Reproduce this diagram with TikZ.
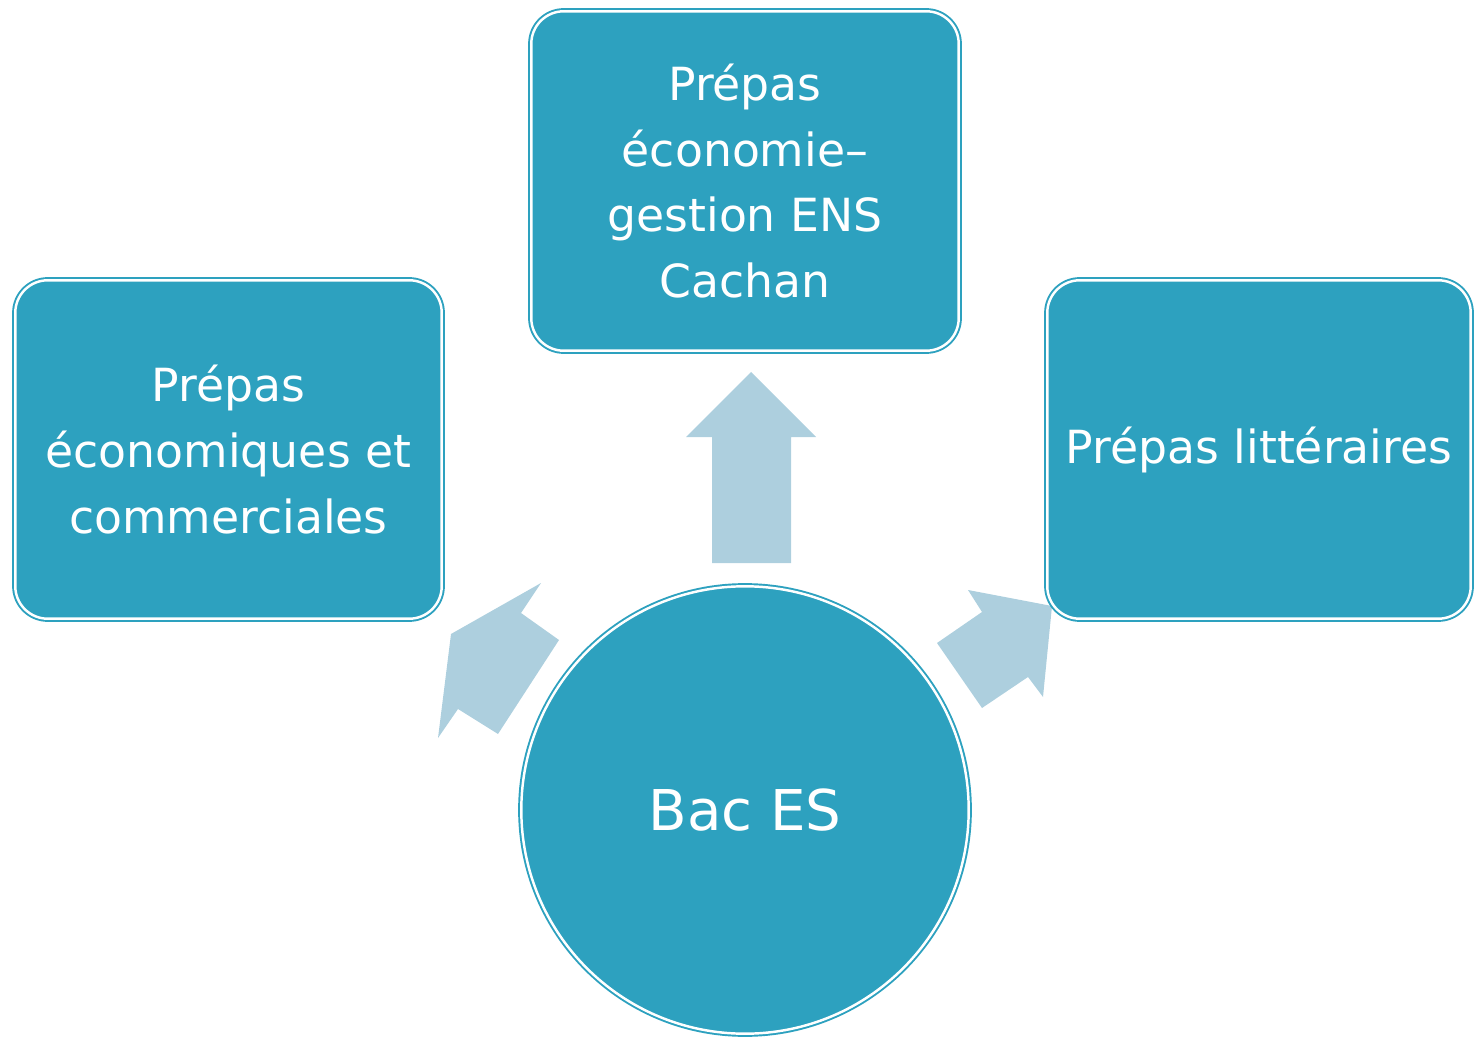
\documentclass[tikz,border=0pt]{standalone}
\usepackage{fontspec}
\setmainfont{DejaVu Sans}
\definecolor{tealbox}{HTML}{2DA1BF}
\definecolor{paleflow}{HTML}{ADCFDE}

\begin{document}
\begin{tikzpicture}[x=0.02cm, y=-0.02cm,
    box/.style={draw=tealbox, fill=tealbox, double=white, double distance=1.4pt,
        line width=1.1pt, rounded corners=0.65cm, text=white, align=center,
        inner sep=0pt, outer sep=0pt, font=\fontsize{26}{37.5}\selectfont},
    hub/.style={circle, draw=tealbox, fill=tealbox, double=white, double distance=1.4pt,
        line width=1.1pt, text=white, inner sep=0pt, outer sep=0pt,
        minimum size=8.95cm, font=\fontsize{32}{38}\selectfont},
    flow/.style={fill=paleflow, draw=none}]
    % Frame
    \useasboundingbox (0,0) rectangle (1474,1040);

    % Arrows
    \fill[flow] (751,372) -- (816,437) -- (791,437) -- (791,563)
        -- (712,563) -- (712,437) -- (686,437) -- cycle;
    \fill[flow] (451,634) -- (541,583) -- (521,613) -- (559,640)
        -- (498,734) -- (458,709) -- (438,738) -- cycle;
    \fill[flow] (1052,606) -- (1043,697) -- (1028,677) -- (982,708)
        -- (937,643) -- (982,612) -- (968,590) -- cycle;

    % Boxes
    \node[box, minimum width=8.55cm, minimum height=6.79cm] (ens) at (745,181)
        {Prépas\\économie–\\gestion ENS\\Cachan};
    \node[box, minimum width=8.53cm, minimum height=6.77cm] (eco) at (228.5,449.5)
        {Prépas\\économiques et\\commerciales};
    \node[box, minimum width=8.47cm, minimum height=6.77cm] (lit) at (1259,449.5)
        {Prépas littéraires};

    % Centre
    \node[hub] (bac) at (745,810) {Bac ES};
\end{tikzpicture}
\end{document}
